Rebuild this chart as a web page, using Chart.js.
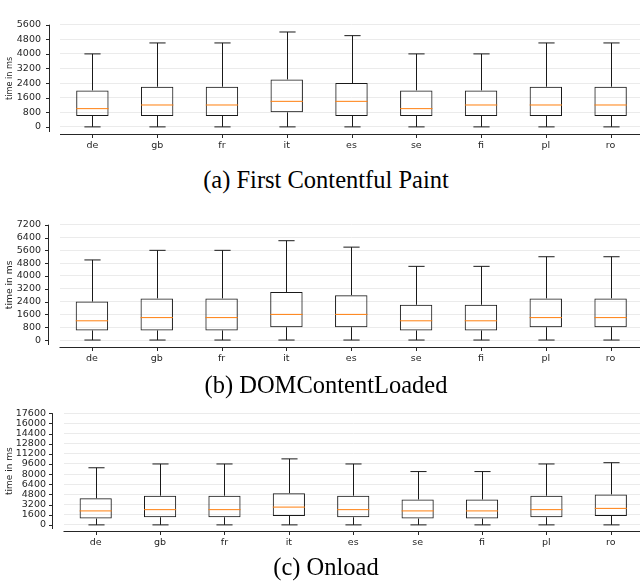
<!DOCTYPE html>
<html>
<head>
<meta charset="utf-8">
<script src="https://cdn.jsdelivr.net/npm/chart.js@4.4.1/dist/chart.umd.min.js"></script>
<style>
  html, body { margin: 0; padding: 0; background: #fff; width: 640px; height: 587px; overflow: hidden; }
  .panel { position: absolute; left: 0; width: 643px; }
  .cap { position: absolute; left: 0; width: 652px; text-align: center; font-family: "Liberation Serif", serif; font-size: 24.5px; line-height: 24.5px; color: #000; white-space: nowrap; }
</style>
</head>
<body>
<div class="panel" style="top:0px;height:160px"><canvas id="graficaFcp" width="643" height="160"></canvas></div>
<div class="cap" style="top:168px">(a) First Contentful Paint</div>
<div class="panel" style="top:200px;height:173px"><canvas id="graficaDcl" width="643" height="173"></canvas></div>
<div class="cap" style="top:373px">(b) DOMContentLoaded</div>
<div class="panel" style="top:390px;height:167px"><canvas id="graficaOnload" width="643" height="167"></canvas></div>
<div class="cap" style="top:555px">(c) Onload</div>
<script>
const paises = ['de', 'gb', 'fr', 'it', 'es', 'se', 'fi', 'pl', 'ro'];

// (a) First Contentful Paint
const fcpMin = [0, 0, 0, 0, 0, 0, 0, 0, 0];
const fcpQ1  = [600, 600, 600, 800, 600, 600, 600, 600, 600];
const fcpMed = [1000, 1200, 1200, 1400, 1400, 1000, 1200, 1200, 1200];
const fcpQ3  = [2000, 2200, 2200, 2600, 2400, 2000, 2000, 2200, 2200];
const fcpMax = [4000, 4600, 4600, 5200, 5000, 4000, 4000, 4600, 4600];
const fcpTicks = [0, 800, 1600, 2400, 3200, 4000, 4800, 5600];

// (b) DOMContentLoaded
const dclMin = [0, 0, 0, 0, 0, 0, 0, 0, 0];
const dclQ1  = [600, 600, 600, 800, 800, 600, 600, 800, 800];
const dclMed = [1200, 1400, 1400, 1600, 1600, 1200, 1200, 1400, 1400];
const dclQ3  = [2400, 2600, 2600, 3000, 2800, 2200, 2200, 2600, 2600];
const dclMax = [5000, 5600, 5600, 6200, 5800, 4600, 4600, 5200, 5200];
const dclTicks = [0, 800, 1600, 2400, 3200, 4000, 4800, 5600, 6400, 7200];

// (c) Onload
const onlMin = [0, 0, 0, 0, 0, 0, 0, 0, 0];
const onlQ1  = [1000, 1200, 1200, 1400, 1200, 1000, 1000, 1200, 1400];
const onlMed = [2200, 2400, 2400, 2800, 2400, 2200, 2200, 2400, 2600];
const onlQ3  = [4200, 4600, 4600, 5000, 4600, 4000, 4000, 4600, 4800];
const onlMax = [9000, 9600, 9600, 10400, 9600, 8400, 8400, 9600, 9800];
const onlTicks = [0, 1600, 3200, 4800, 6400, 8000, 9600, 11200, 12800, 14400, 16000, 17600];

const fuente = { family: 'DejaVu Sans', size: 9.5 };
const colorTexto = '#262626';

// bigotes, medianas y ejes desplazados (estilo matplotlib)
const cajasPlugin = {
    id: 'cajas',
    afterDatasetsDraw(chart) {
        const ds = chart.data.datasets[0];
        const meta = chart.getDatasetMeta(0);
        const y = chart.scales.y;
        const ctx = chart.ctx;
        ctx.save();
        ctx.lineWidth = 1;
        meta.data.forEach((bar, i) => {
            const x = Math.round(bar.x) + 0.5;
            const cap = bar.width / 4;
            const yMin = y.getPixelForValue(ds.minimos[i]);
            const yMax = y.getPixelForValue(ds.maximos[i]);
            const yQ1 = y.getPixelForValue(ds.data[i][0]);
            const yQ3 = y.getPixelForValue(ds.data[i][1]);
            const yMed = y.getPixelForValue(ds.medianas[i]);

            ctx.strokeStyle = '#1a1a1a';
            ctx.beginPath();
            ctx.moveTo(x, yQ1); ctx.lineTo(x, yMin);
            ctx.moveTo(x, yQ3); ctx.lineTo(x, yMax);
            ctx.moveTo(x - cap, yMin); ctx.lineTo(x + cap, yMin);
            ctx.moveTo(x - cap, yMax); ctx.lineTo(x + cap, yMax);
            ctx.stroke();

            ctx.strokeStyle = '#ff7f0e';
            ctx.beginPath();
            ctx.moveTo(bar.x - bar.width / 2, yMed);
            ctx.lineTo(bar.x + bar.width / 2, yMed);
            ctx.stroke();
        });
        ctx.restore();
    },
    afterDraw(chart) {
        const area = chart.chartArea;
        const y = chart.scales.y;
        const ctx = chart.ctx;
        const ejeY = Math.round(area.left - 11.5) + 0.5;
        const ejeX = Math.round(area.bottom + 2) + 0.5;
        ctx.save();
        ctx.strokeStyle = colorTexto;
        ctx.lineWidth = 1;
        ctx.beginPath();
        ctx.moveTo(ejeY, area.top); ctx.lineTo(ejeY, area.bottom);
        ctx.moveTo(area.left, ejeX); ctx.lineTo(area.right, ejeX);
        y.ticks.forEach(t => {
            const py = Math.round(y.getPixelForValue(t.value)) + 0.5;
            ctx.moveTo(ejeY - 3.5, py); ctx.lineTo(ejeY, py);
        });
        chart.getDatasetMeta(0).data.forEach(bar => {
            const px = Math.round(bar.x) + 0.5;
            ctx.moveTo(px, ejeX); ctx.lineTo(px, ejeX + 3.5);
        });
        ctx.stroke();
        ctx.restore();
    }
};

function crearGrafica(id, cfg) {
    const ctx = document.getElementById(id).getContext('2d');
    return new Chart(ctx, {
        type: 'bar',
        data: {
            labels: paises,
            datasets: [{
                data: cfg.q1.map((v, i) => [v, cfg.q3[i]]),
                minimos: cfg.min,
                medianas: cfg.med,
                maximos: cfg.max,
                backgroundColor: 'rgba(255,255,255,0)',
                borderColor: '#1a1a1a',
                borderWidth: 1,
                borderSkipped: false,
                barPercentage: 0.5,
                categoryPercentage: 1
            }]
        },
        options: {
            responsive: false,
            animation: false,
            devicePixelRatio: 1,
            layout: { padding: { top: cfg.top, left: 0, right: 0, bottom: 0 } },
            plugins: { legend: { display: false }, tooltip: { enabled: false } },
            scales: {
                x: {
                    offset: true,
                    grid: { display: false, drawTicks: false },
                    border: { display: false },
                    ticks: { font: fuente, color: colorTexto, padding: 8 },
                    afterFit: s => { s.height = 28; }
                },
                y: {
                    min: cfg.yMin,
                    max: cfg.ticks[cfg.ticks.length - 1],
                    afterBuildTicks: s => { s.ticks = cfg.ticks.map(v => ({ value: v })); },
                    afterFit: s => { s.width = cfg.left; },
                    grid: { color: '#ebebeb', lineWidth: 1, drawTicks: false },
                    border: { display: false },
                    ticks: {
                        font: fuente, color: colorTexto, padding: cfg.left - cfg.labelRight,
                        autoSkip: false, callback: v => String(v)
                    },
                    title: {
                        display: true, text: 'time in ms', color: colorTexto,
                        font: { family: 'DejaVu Sans', size: cfg.titleSize },
                        padding: { top: 10 - cfg.titleSize * 0.6, bottom: 0 }
                    }
                }
            }
        },
        plugins: [cajasPlugin]
    });
}

crearGrafica('graficaFcp', { min: fcpMin, q1: fcpQ1, med: fcpMed, q3: fcpQ3, max: fcpMax, ticks: fcpTicks, yMin: -280, top: 12.3, left: 60, labelRight: 41, titleSize: 8.2 });
crearGrafica('graficaDcl', { min: dclMin, q1: dclQ1, med: dclMed, q3: dclQ3, max: dclMax, ticks: dclTicks, yMin: -310, top: 24.7, left: 59.5, labelRight: 41, titleSize: 9.2 });
crearGrafica('graficaOnload', { min: onlMin, q1: onlQ1, med: onlMed, q3: onlQ3, max: onlMax, ticks: onlTicks, yMin: -650, top: 17.3, left: 63.5, labelRight: 46, titleSize: 9 });
</script>
</body>
</html>
